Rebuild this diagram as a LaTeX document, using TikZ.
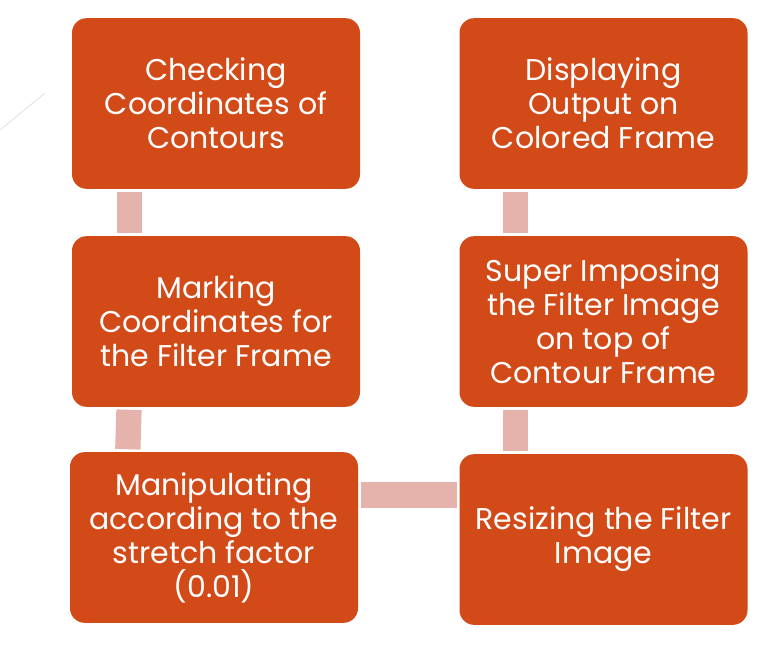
\documentclass[tikz,border=0pt]{standalone}
\usepackage{fontspec}
\setmainfont{Poppins}
\definecolor{boxred}{RGB}{210,74,24}
\definecolor{barpink}{RGB}{230,178,172}
\begin{document}
\begin{tikzpicture}[x=0.75pt,y=-0.75pt]
   \useasboundingbox (0,0) rectangle (777,653);
   % decorative line
   \draw[gray!25,line width=0.6pt] (0,130) -- (45,93);
   \begin{scope}[every node/.style={fill=boxred,rounded corners=11pt,text=white,
      align=center,minimum width=216pt,minimum height=128pt,inner sep=0pt,
      font=\fontsize{22.5}{25.5}\selectfont}]
    \node (check) at (216,103.5) {Checking\\Coordinates of\\Contours};
    \node (mark) at (216,321.5) {Marking\\Coordinates for\\the Filter Frame};
    \node (manip) at (214,537.5) {Manipulating\\according to the\\stretch factor\\(0.01)};
    \node (disp) at (603.5,103.5) {Displaying\\Output on\\Colored Frame};
    \node (super) at (603.5,321.5) {Super Imposing\\the Filter Image\\on top of\\Contour Frame};
    \node (resize) at (603.5,539.5) {Resizing the Filter\\Image};
   \end{scope}
   \begin{scope}[every path/.style={draw=barpink,line width=19pt,shorten >=2pt,shorten <=2pt}]
    \draw ([xshift=43.5pt]check.south west) -- ([xshift=43.5pt]mark.north west);
    \draw ([xshift=43pt]mark.south west) -- ([xshift=43.5pt]manip.north west);
    \draw ([yshift=32pt]manip.east) -- ([yshift=33.5pt]resize.west);
    \draw ([xshift=42pt]resize.north west) -- ([xshift=42pt]super.south west);
    \draw ([xshift=42pt]super.north west) -- ([xshift=42pt]disp.south west);
   \end{scope}
\end{tikzpicture}
\end{document}
